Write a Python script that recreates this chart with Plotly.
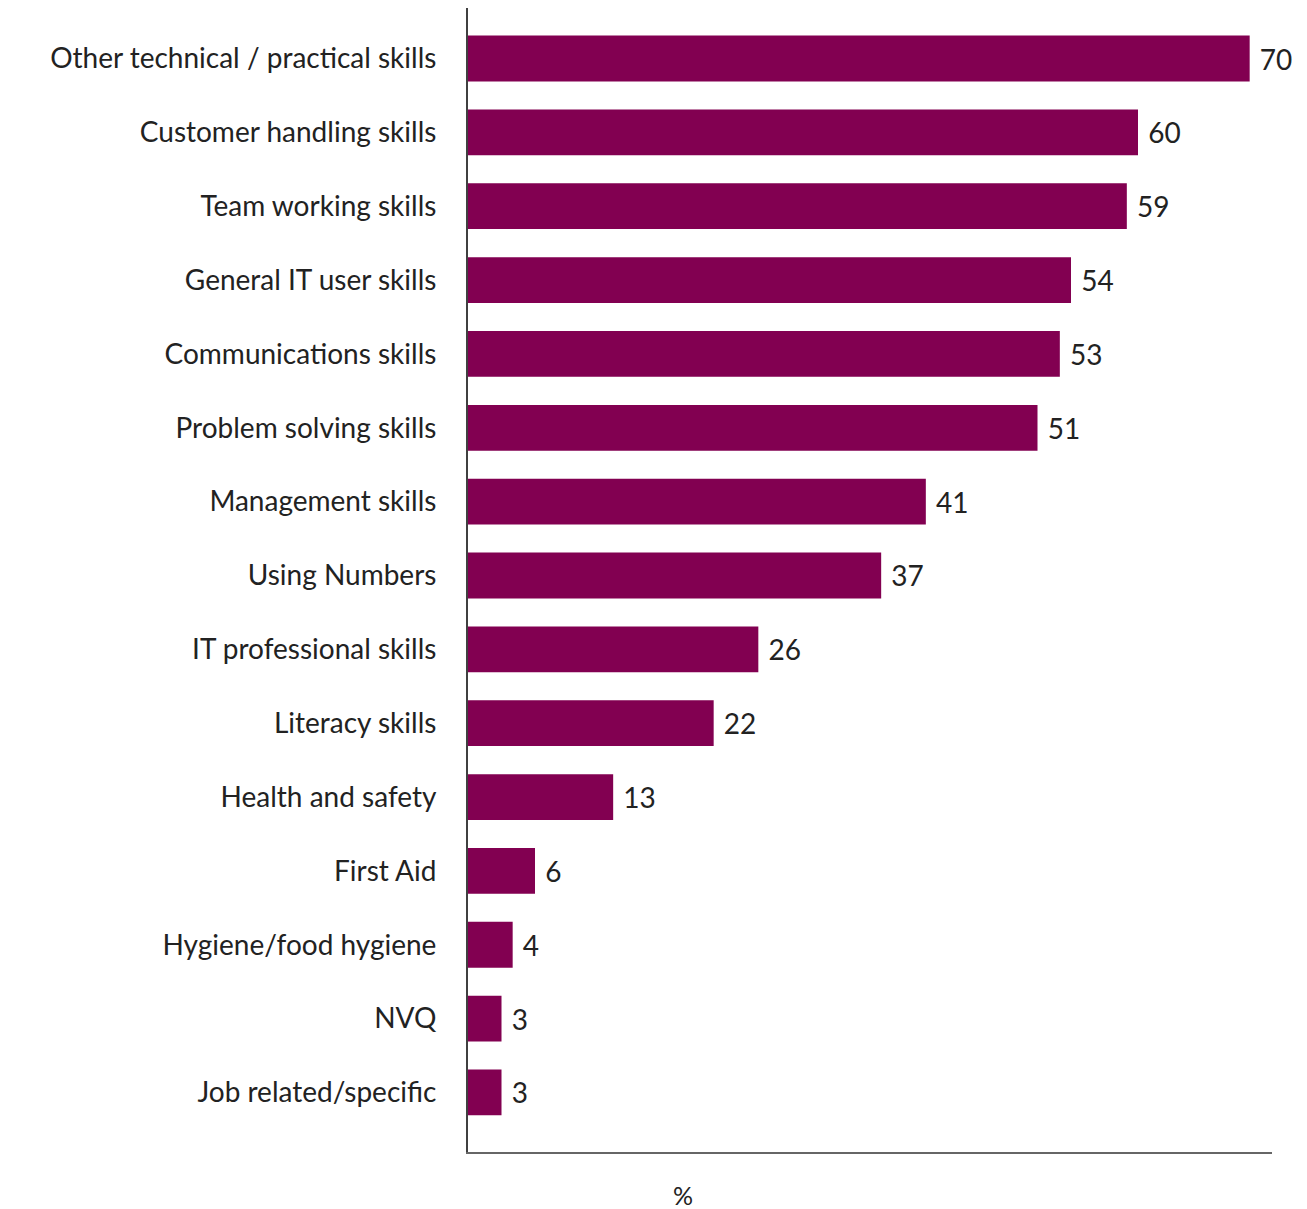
import plotly.graph_objects as go

# Skill areas, listed from the bottom bar to the top bar
categories = [
    "Job related/specific",
    "NVQ",
    "Hygiene/food hygiene",
    "First Aid",
    "Health and safety",
    "Literacy skills",
    "IT professional skills",
    "Using Numbers",
    "Management skills",
    "Problem solving skills",
    "Communications skills",
    "General IT user skills",
    "Team working skills",
    "Customer handling skills",
    "Other technical / practical skills",
]
values = [3, 3, 4, 6, 13, 22, 26, 37, 41, 51, 53, 54, 59, 60, 70]

BAR_COLOR = "#820051"
TEXT_COLOR = "#222222"
FONT = "Lato, 'Open Sans', sans-serif"

fig = go.Figure(
    go.Bar(
        x=values,
        y=categories,
        orientation="h",
        marker=dict(color=BAR_COLOR, line=dict(width=0)),
        width=0.62,
        texttemplate=" %{x}",
        textposition="outside",
        textfont=dict(family=FONT, size=28, color=TEXT_COLOR),
        cliponaxis=False,
    )
)

fig.update_layout(
    width=1307,
    height=1209,
    margin=dict(l=468, r=35, t=8, b=57),
    plot_bgcolor="white",
    paper_bgcolor="white",
    showlegend=False,
    font=dict(family=FONT, color=TEXT_COLOR),
    xaxis=dict(
        range=[0, 72],
        showgrid=False,
        zeroline=False,
        showticklabels=False,
        ticks="",
        showline=True,
        linecolor="#666666",
        linewidth=2,
        fixedrange=True,
    ),
    yaxis=dict(
        type="category",
        range=[-0.806, 14.684],
        showgrid=False,
        zeroline=False,
        ticks="",
        ticklabelstandoff=24,
        tickfont=dict(family=FONT, size=28, color=TEXT_COLOR),
        showline=True,
        linecolor="#404040",
        linewidth=2,
        fixedrange=True,
    ),
    annotations=[
        dict(
            text="%",
            xref="paper",
            yref="paper",
            x=0.267,
            y=-0.038,
            xanchor="center",
            yanchor="middle",
            showarrow=False,
            font=dict(family=FONT, size=25, color=TEXT_COLOR),
        )
    ],
)

fig.write_html("out.html")
